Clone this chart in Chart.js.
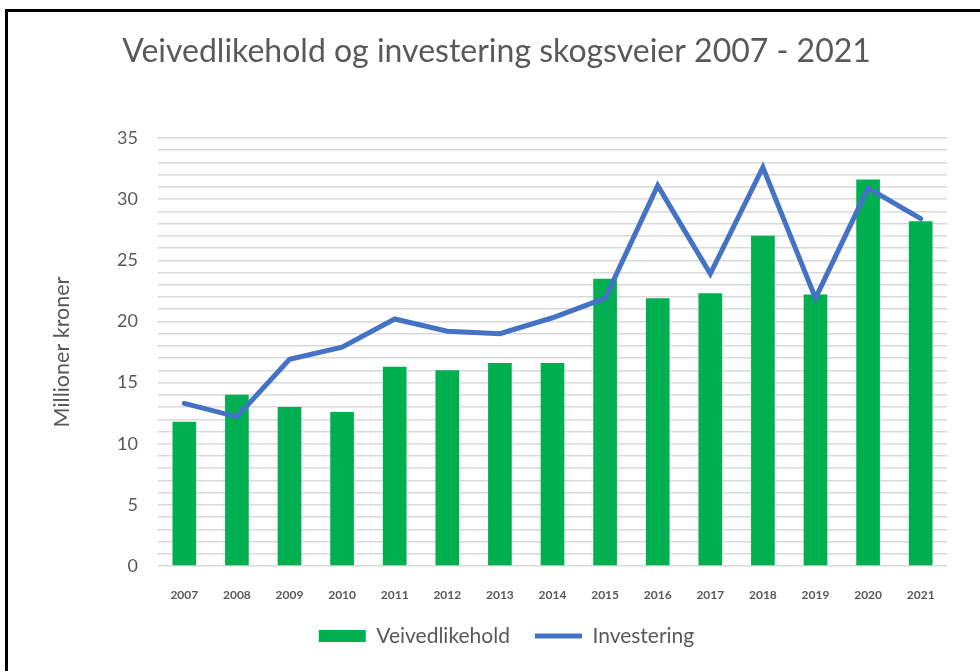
<!DOCTYPE html>
<html>
<head>
<meta charset="utf-8">
<script src="https://cdn.jsdelivr.net/npm/chart.js@4"></script>
<style>
  html, body { margin: 0; padding: 0; background: #fff; }
  #wrap { position: relative; width: 980px; height: 671px; overflow: hidden; }
  #chart { position: absolute; left: 0; top: 0; }
  #frame { position: absolute; left: 5px; top: 9px; right: -10px; bottom: -10px;
           border-top: 3px solid #000; border-left: 3px solid #000; pointer-events: none; }
</style>
</head>
<body>
<div id="wrap">
  <canvas id="chart" width="980" height="671"></canvas>
  <div id="frame"></div>
</div>
<script>
// Data (millioner kroner)
const aar = ['2007', '2008', '2009', '2010', '2011', '2012', '2013', '2014', '2015', '2016', '2017', '2018', '2019', '2020', '2021'];
const veivedlikehold = [11.8, 14.0, 13.0, 12.6, 16.3, 16.0, 16.6, 16.6, 23.5, 21.9, 22.3, 27.0, 22.2, 31.6, 28.2];
const investering = [13.3, 12.2, 16.9, 17.9, 20.2, 19.2, 19.0, 20.3, 21.9, 31.1, 23.9, 32.6, 21.9, 30.9, 28.4];
const yMin = 0, yMax = 35, yStep = 1, yLabelStep = 5;

const tekstFarge = '#595959';
const font = 'Lato, Carlito, Calibri, sans-serif';

// skyv legenden litt til høyre, som i originalen
const flyttLegende = {
  id: 'flyttLegende',
  afterLayout(chart) {
    chart.legend.left += 10;
    chart.legend.right += 10;
  },
};

new Chart(document.getElementById('chart').getContext('2d'), {
  type: 'bar',
  data: {
    labels: aar,
    datasets: [
      {
        label: 'Veivedlikehold',
        data: veivedlikehold,
        backgroundColor: '#00B050',
        borderWidth: 0,
        barPercentage: 0.45,
        categoryPercentage: 1,
        order: 1,
        pointStyle: 'rect',
      },
      {
        type: 'line',
        label: 'Investering',
        data: investering,
        borderColor: '#4472C4',
        backgroundColor: '#4472C4',
        borderWidth: 5,
        borderCapStyle: 'round',
        pointRadius: 0,
        tension: 0,
        order: 0,
        pointStyle: 'line',
      },
    ],
  },
  options: {
    responsive: false,
    animation: false,
    devicePixelRatio: 1,
    layout: { padding: { left: 46, right: 33, top: 10, bottom: 14.5 } },
    plugins: {
      tooltip: { enabled: false },
      title: {
        display: true,
        text: 'Veivedlikehold og investering skogsveier 2007 - 2021',
        color: tekstFarge,
        font: { family: font, size: 32, weight: 'normal' },
        padding: { top: 22, bottom: 67.6 },
      },
      legend: {
        position: 'bottom',
        labels: {
          color: tekstFarge,
          font: { family: font, size: 21 },
          usePointStyle: true,
          pointStyleWidth: 47,
          boxHeight: 12,
          padding: 25,
          sort: (a, b) => a.datasetIndex - b.datasetIndex,
        },
      },
    },
    scales: {
      x: {
        offset: true,
        grid: { display: false, drawTicks: false },
        border: { display: false },
        ticks: {
          color: tekstFarge,
          font: { family: font, size: 12, weight: 'bold' },
          padding: 22,
          maxRotation: 0,
          autoSkip: false,
        },
        afterFit: (s) => { s.height = 34.5; },
      },
      y: {
        min: yMin,
        max: yMax,
        grid: { color: '#d9d9d9', lineWidth: 1.5, drawTicks: false },
        border: { display: false },
        ticks: {
          stepSize: yStep,
          autoSkip: false,
          color: tekstFarge,
          font: { family: font, size: 18 },
          padding: 20,
          callback: (v) => (v % yLabelStep === 0 ? v : ''),
        },
        title: {
          display: true,
          text: 'Millioner kroner',
          color: tekstFarge,
          font: { family: font, size: 21.5 },
          padding: { top: 3, bottom: 0 },
        },
        afterFit: (s) => { s.width = 112; },
      },
    },
  },
  plugins: [flyttLegende],
});
</script>
</body>
</html>
